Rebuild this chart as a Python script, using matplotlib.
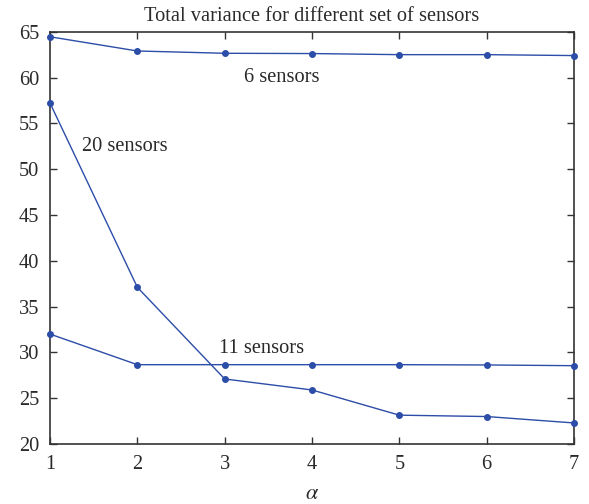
import matplotlib
matplotlib.use("Agg")
import matplotlib.pyplot as plt

plt.rcParams['font.family'] = ['Liberation Serif', 'DejaVu Serif']
plt.rcParams['mathtext.fontset'] = 'stix'

alpha = [1, 2, 3, 4, 5, 6, 7]
sensors_6 = [64.45, 62.9, 62.65, 62.62, 62.5, 62.5, 62.4]
sensors_20 = [57.2, 37.1, 27.1, 25.9, 23.15, 23.0, 22.3]
sensors_11 = [32.0, 28.66, 28.66, 28.66, 28.66, 28.63, 28.55]

color = "#2c4da8"
txt = "#2a2a2a"
fs = 14.7

fig = plt.figure(figsize=(5.89, 5.04), dpi=100)
ax = fig.add_axes([0.085, 0.119, 0.8895, 0.818])

for ys in (sensors_6, sensors_20, sensors_11):
    ax.plot(alpha, ys, "-o", color=color, lw=1.0, ms=4, clip_on=False, zorder=3)

ax.text(3.65, 60.0, "6 sensors", ha="center", va="center", fontsize=fs, color=txt)
ax.text(1.86, 52.5, "20 sensors", ha="center", va="center", fontsize=fs, color=txt)
ax.text(3.42, 30.4, "11 sensors", ha="center", va="center", fontsize=fs, color=txt)

ax.set_xlim(1, 7)
ax.set_ylim(20, 65)
ax.set_xticks(alpha)
ax.set_yticks(range(20, 66, 5))
ax.tick_params(direction="in", top=True, right=True, labelsize=fs, labelcolor=txt,
               length=5, width=1.0, color="#333333", pad=8)
for s in ax.spines.values():
    s.set_linewidth(1.2)
    s.set_color("#333333")
ax.set_title("Total variance for different set of sensors", fontsize=fs, color=txt, pad=8)
ax.set_xlabel(r"$\alpha$", fontsize=16, color=txt, labelpad=8)

fig.savefig("out.png", dpi=100)
